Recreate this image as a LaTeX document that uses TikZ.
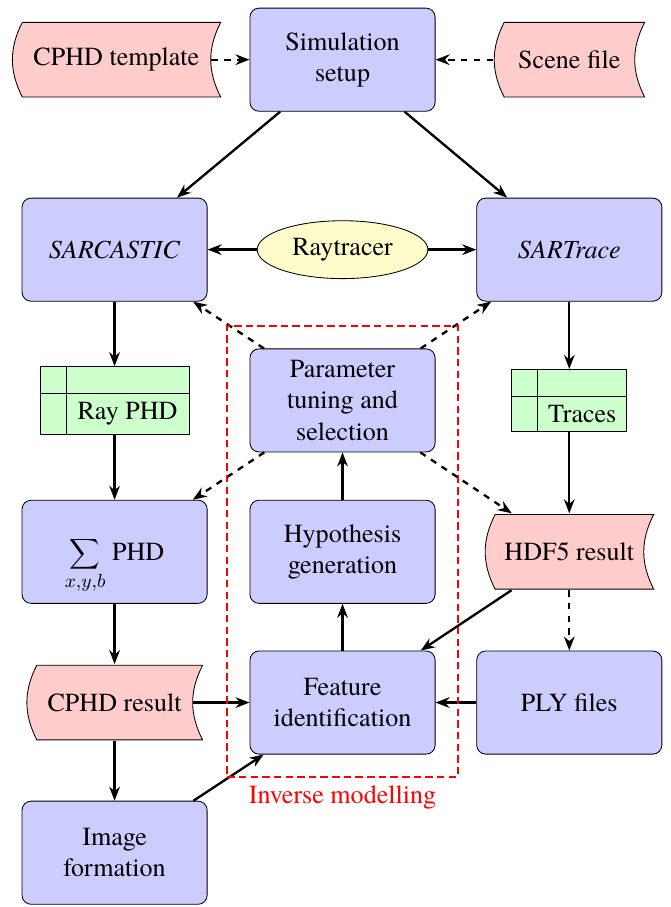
\documentclass[tikz,border=0pt]{standalone}
\usepackage{fontspec}
\setmainfont{TeX Gyre Termes}
\usetikzlibrary{shapes.geometric, arrows.meta, fit}

\begin{document}
\begin{tikzpicture}[
        every node/.style={font=\fontsize{12.3pt}{14.8pt}\selectfont},
        block/.style={rectangle, draw=black, fill=blue!20, rounded corners=0.15cm, minimum width=3.07cm, minimum height=1.71cm, align=center},
        tracer/.style={ellipse, draw=black, fill=yellow!20, minimum width=2.83cm, minimum height=0.96cm, inner sep=0pt},
        storage/.style={rectangle, minimum height=1.26cm, inner sep=0pt, path picture={
            \filldraw[fill=red!20, draw=black]
                ([xshift=0.18cm, yshift=-0.3pt]path picture bounding box.north west)
                to[bend right=27] ([xshift=0.18cm, yshift=0.3pt]path picture bounding box.south west)
                -- ([xshift=-0.3pt, yshift=0.3pt]path picture bounding box.south east)
                to[bend left=27] ([xshift=-0.3pt, yshift=-0.3pt]path picture bounding box.north east)
                -- cycle;}},
        datastore/.style={rectangle, draw=black, fill=green!20, path picture={
            \draw ([xshift=0.43cm]path picture bounding box.north west) -- ([xshift=0.43cm]path picture bounding box.south west)
                  ([yshift=-0.45cm]path picture bounding box.north west) -- ([yshift=-0.45cm]path picture bounding box.north east);}},
        arrow/.style={-{Stealth[length=6.6pt, width=5pt]}, line width=1.1pt},
        dasharrow/.style={arrow, dashed}
    ]
        \useasboundingbox (0, 0) rectangle (11.11, 15.04);

        % Nodes
        \node[block] (sim) at (5.68, 14.05) {Simulation\\setup};
        \node[storage, minimum width=3.48cm] (tmpl) at (1.93, 14.05) {CPHD template};
        \node[storage, minimum width=2.52cm] (scene) at (9.44, 14.05) {Scene file};
        \node[block] (sarcastic) at (1.9, 10.9) {\textit{SARCASTIC}};
        \node[tracer] (ray) at (5.68, 10.9) {Raytracer};
        \node[block] (sartrace) at (9.44, 10.9) {\textit{SARTrace}};
        \node[datastore, minimum width=2.47cm, minimum height=1.12cm,
            label={[xshift=0.215cm, yshift=-0.225cm]center:Ray PHD}] (rayphd) at (1.9, 8.4) {};
        \node[block] (param) at (5.68, 8.4) {Parameter\\tuning and\\selection};
        \node[datastore, minimum width=1.91cm, minimum height=1.03cm,
            label={[xshift=0.215cm, yshift=-0.225cm]center:Traces}] (traces) at (9.44, 8.4) {};
        \node[block] (sum) at (1.9, 5.89) {\smash{$\displaystyle\sum_{x,y,b}$} PHD};
        \node[block] (hypo) at (5.68, 5.89) {Hypothesis\\generation};
        \node[storage, minimum width=2.82cm] (hdf) at (9.44, 5.89) {HDF5 result};
        \node[storage, minimum width=2.94cm] (cphd) at (1.9, 3.39) {CPHD result};
        \node[block] (feature) at (5.68, 3.39) {Feature\\identification};
        \node[block] (ply) at (9.44, 3.39) {PLY files};
        \node[block] (img) at (1.9, 0.9) {Image\\formation};

        % Arrows
        \draw[dasharrow] ([xshift=-0.17cm]tmpl.east) -- (sim.west);
        \draw[dasharrow] (scene.west) -- (sim.east);
        \draw[arrow] (sim) -- (sarcastic);
        \draw[arrow] (sim) -- (sartrace);
        \draw[arrow] (ray) -- (sarcastic);
        \draw[arrow] (ray) -- (sartrace);
        \draw[arrow] (sarcastic) -- (rayphd);
        \draw[arrow] (rayphd) -- (sum);
        \draw[arrow] (sartrace) -- (traces);
        \draw[arrow] (traces) -- (hdf);
        \draw[dasharrow] (param) -- (sarcastic);
        \draw[dasharrow] (param) -- (sartrace);
        \draw[dasharrow] (param) -- (sum);
        \draw[dasharrow] (param) -- (hdf);
        \draw[arrow] (hypo) -- (param);
        \draw[arrow] (feature) -- (hypo);
        \draw[arrow] (sum) -- (cphd);
        \draw[arrow] (cphd) -- (img);
        \draw[arrow] ([xshift=-0.17cm]cphd.east) -- (feature.west);
        \draw[arrow] (ply) -- (feature);
        \draw[arrow] (hdf) -- (feature);
        \draw[dasharrow] (hdf) -- (ply);
        \draw[arrow] (img) -- (feature);

        % Inverse modelling frame
        \node[draw=red, thick, dash pattern=on 3.5pt off 2pt, fit=(param)(feature), inner sep=0.37cm,
            label distance=0.5mm, label={[text=red]below:Inverse modelling}] (inverse) {};
    \end{tikzpicture}
\end{document}
